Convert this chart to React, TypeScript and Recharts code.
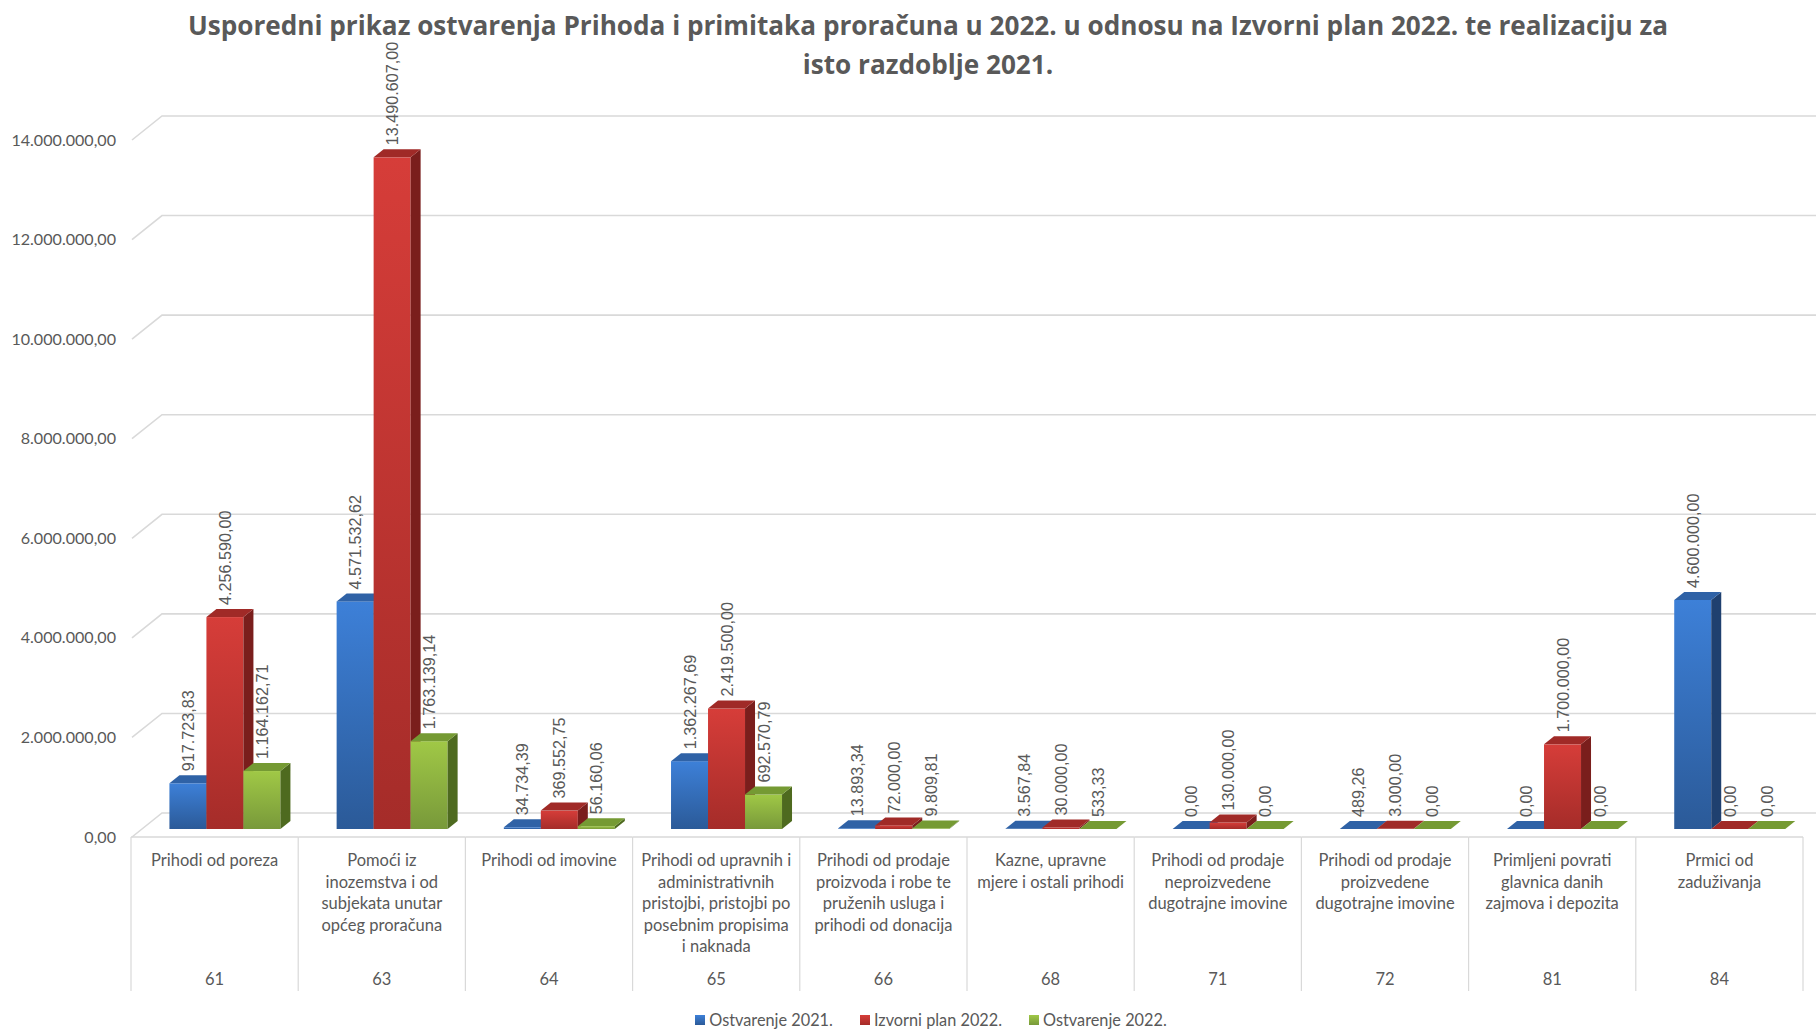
import React from 'react';
import { BarChart, Bar, XAxis, YAxis, CartesianGrid, LabelList, Legend } from 'recharts';

const titleLines = [
  'Usporedni prikaz ostvarenja Prihoda i primitaka proračuna u 2022. u odnosu na Izvorni plan 2022. te realizaciju za',
  'isto razdoblje 2021.',
];

const codes = ['61', '63', '64', '65', '66', '68', '71', '72', '81', '84'];

const categoryLines = [
  ['Prihodi od poreza'],
  ['Pomoći iz', 'inozemstva i od', 'subjekata unutar', 'općeg proračuna'],
  ['Prihodi od imovine'],
  ['Prihodi od upravnih i', 'administrativnih', 'pristojbi, pristojbi po', 'posebnim propisima', 'i naknada'],
  ['Prihodi od prodaje', 'proizvoda i robe te', 'pruženih usluga i', 'prihodi od donacija'],
  ['Kazne, upravne', 'mjere i ostali prihodi'],
  ['Prihodi od prodaje', 'neproizvedene', 'dugotrajne imovine'],
  ['Prihodi od prodaje', 'proizvedene', 'dugotrajne imovine'],
  ['Primljeni povrati', 'glavnica danih', 'zajmova i depozita'],
  ['Prmici od', 'zaduživanja'],
];

const ostvarenje2021 = [917723.83, 4571532.62, 34734.39, 1362267.69, 13893.34, 3567.84, 0, 489.26, 0, 4600000];
const izvorniPlan2022 = [4256590, 13490607, 369552.75, 2419500, 72000, 30000, 130000, 3000, 1700000, 0];
const ostvarenje2022 = [1164162.71, 1763139.14, 56160.06, 692570.79, 9809.81, 533.33, 0, 0, 0, 0];

const yTicks = [0, 2000000, 4000000, 6000000, 8000000, 10000000, 12000000, 14000000];

const seriesNames = ['Ostvarenje 2021.', 'Izvorni plan 2022.', 'Ostvarenje 2022.'];

const data = codes.map((code, i) => ({
  code,
  o21: ostvarenje2021[i],
  p22: izvorniPlan2022[i],
  o22: ostvarenje2022[i],
}));

const W = 1816;
const H = 1031;
const MARGIN = { top: 132, right: 13, left: 0, bottom: 0 };
const Y_W = 131;
const PLOT_W = W - MARGIN.left - MARGIN.right - Y_W;
const BAND = PLOT_W / codes.length;
const SHIFT = 10;
const DX = 10;
const DY = 8;
const GRID = '#d9d9d9';
const TEXT = '#595959';
const FONT = 'Lato, "Open Sans", sans-serif';

const palette = [
  { id: 'blue', top: '#3d80d8', bottom: '#2b5a98', side: '#1f406f', cap: '#2f62a6' },
  { id: 'red', top: '#d63d39', bottom: '#a52c29', side: '#7a1e1c', cap: '#a02a27' },
  { id: 'green', top: '#a0c846', bottom: '#78993a', side: '#4e6a1f', cap: '#759a33' },
];

const fmt = (v: number) => {
  const [int, dec] = Math.abs(v).toFixed(2).split('.');
  return int.replace(/\B(?=(\d{3})+(?!\d))/g, '.') + ',' + dec;
};

const make3D = (c: typeof palette[number]) => (props: any) => {
  const { x, y, width, height } = props;
  if (x == null || y == null) return <g />;
  const X = x + SHIFT;
  const w = width;
  const h = Math.max(0, height || 0);
  const top = y;
  const base = y + h;
  return (
    <g>
      {h > 0 && <rect x={X} y={top} width={w} height={h} fill={`url(#grad-${c.id})`} />}
      {h > 0 && (
        <polygon
          points={`${X + w},${top} ${X + w + DX},${top - DY} ${X + w + DX},${base - DY} ${X + w},${base}`}
          fill={c.side}
        />
      )}
      <polygon
        points={`${X},${top} ${X + DX},${top - DY} ${X + w + DX},${top - DY} ${X + w},${top}`}
        fill={c.cap}
      />
    </g>
  );
};

const DataLabel = (props: any) => {
  const { x, y, width, value } = props;
  if (x == null || y == null) return null;
  const cx = x + SHIFT + width / 2;
  const by = y - 12;
  return (
    <text
      transform={`translate(${cx},${by}) rotate(-90)`}
      x={0}
      y={0}
      textAnchor="start"
      dominantBaseline="central"
      fontSize={16.2}
      fill={TEXT}
      fontFamily='"Liberation Sans", Arial, sans-serif'
    >
      {fmt(Number(value))}
    </text>
  );
};

const XTick = (props: any) => {
  const { x, y, payload, index } = props;
  const i = payload && payload.index != null ? payload.index : index;
  const half = BAND / 2;
  const lines = categoryLines[i] || [];
  return (
    <g>
      <line x1={x - half} x2={x + half} y1={y + 8} y2={y + 8} stroke={GRID} strokeWidth={1.5} />
      <line x1={x - half} x2={x - half} y1={y + 8} y2={y + 162} stroke={GRID} strokeWidth={1.2} />
      {i === codes.length - 1 && (
        <line x1={x + half} x2={x + half} y1={y + 8} y2={y + 162} stroke={GRID} strokeWidth={1.2} />
      )}
      {lines.map((l, k) => (
        <text
          key={k}
          x={x}
          y={y + 31 + k * 21.6}
          textAnchor="middle"
          dominantBaseline="central"
          fontSize={16.5}
          fill={TEXT}
          fontFamily={FONT}
        >
          {l}
        </text>
      ))}
      <text x={x} y={y + 150} textAnchor="middle" dominantBaseline="central" fontSize={16.5} fill={TEXT} fontFamily={FONT}>
        {payload.value}
      </text>
    </g>
  );
};

const YTick = (props: any) => {
  const { x, y, payload } = props;
  return (
    <text x={x} y={y + 7} textAnchor="end" dominantBaseline="central" fontSize={16.1} fill={TEXT} fontFamily={FONT}>
      {fmt(payload.value)}
    </text>
  );
};

const gridLine = (props: any) => {
  const { x1, y1, index } = props;
  return (
    <polyline
      key={`g-${index}-${y1}`}
      points={`${x1 + 1},${y1 + 8} ${x1 + 31},${y1 - 16} ${W},${y1 - 16}`}
      fill="none"
      stroke={GRID}
      strokeWidth={1.6}
    />
  );
};

const LegendContent = () => (
  <div
    style={{
      display: 'flex',
      justifyContent: 'center',
      alignItems: 'center',
      fontFamily: FONT,
      fontSize: 16.3,
      color: TEXT,
      paddingLeft: 46,
    }}
  >
    {seriesNames.map((n, i) => (
      <div key={n} style={{ display: 'flex', alignItems: 'center', marginRight: i < 2 ? 27 : 0 }}>
        <span
          style={{
            display: 'inline-block',
            width: 10,
            height: 10,
            marginRight: 4,
            background: `linear-gradient(${palette[i].top}, ${palette[i].bottom})`,
          }}
        />
        <span>{n}</span>
      </div>
    ))}
  </div>
);

export default function App() {
  return (
    <div style={{ position: 'absolute', left: 0, top: 0, width: W, height: H, background: '#fff', overflow: 'hidden' }}>
      <BarChart
        width={W}
        height={H}
        data={data}
        margin={MARGIN}
        barCategoryGap="17%"
        barGap={0}
      >
        <defs>
          {palette.map((c) => (
            <linearGradient key={c.id} id={`grad-${c.id}`} x1="0" y1="0" x2="0" y2="1">
              <stop offset="0%" stopColor={c.top} />
              <stop offset="100%" stopColor={c.bottom} />
            </linearGradient>
          ))}
        </defs>
        <CartesianGrid horizontal={gridLine} vertical={false} />
        <XAxis
          dataKey="code"
          axisLine={false}
          tickLine={false}
          tickSize={0}
          tickMargin={0}
          height={H - MARGIN.top - 697}
          interval={0}
          tick={<XTick />}
        />
        <YAxis
          width={Y_W}
          domain={[0, 14000000]}
          ticks={yTicks}
          axisLine={false}
          tickLine={false}
          tickSize={0}
          tickMargin={15}
          tick={<YTick />}
        />
        <Legend
          verticalAlign="middle"
          layout="horizontal"
          content={<LegendContent />}
          wrapperStyle={{ position: 'absolute', top: 1010, left: 0, width: W }}
        />
        <Bar dataKey="o21" name={seriesNames[0]} isAnimationActive={false} shape={make3D(palette[0])}>
          <LabelList dataKey="o21" content={<DataLabel />} />
        </Bar>
        <Bar dataKey="p22" name={seriesNames[1]} isAnimationActive={false} shape={make3D(palette[1])}>
          <LabelList dataKey="p22" content={<DataLabel />} />
        </Bar>
        <Bar dataKey="o22" name={seriesNames[2]} isAnimationActive={false} shape={make3D(palette[2])}>
          <LabelList dataKey="o22" content={<DataLabel />} />
        </Bar>
      </BarChart>
      <div
        style={{
          position: 'absolute',
          left: 20,
          top: 6,
          width: W,
          textAlign: 'center',
          fontFamily: '"Open Sans", Lato, sans-serif',
          fontWeight: 700,
          fontSize: 26.15,
          lineHeight: '39px',
          color: TEXT,
        }}
      >
        {titleLines[0]}
        <br />
        {titleLines[1]}
      </div>
    </div>
  );
}
